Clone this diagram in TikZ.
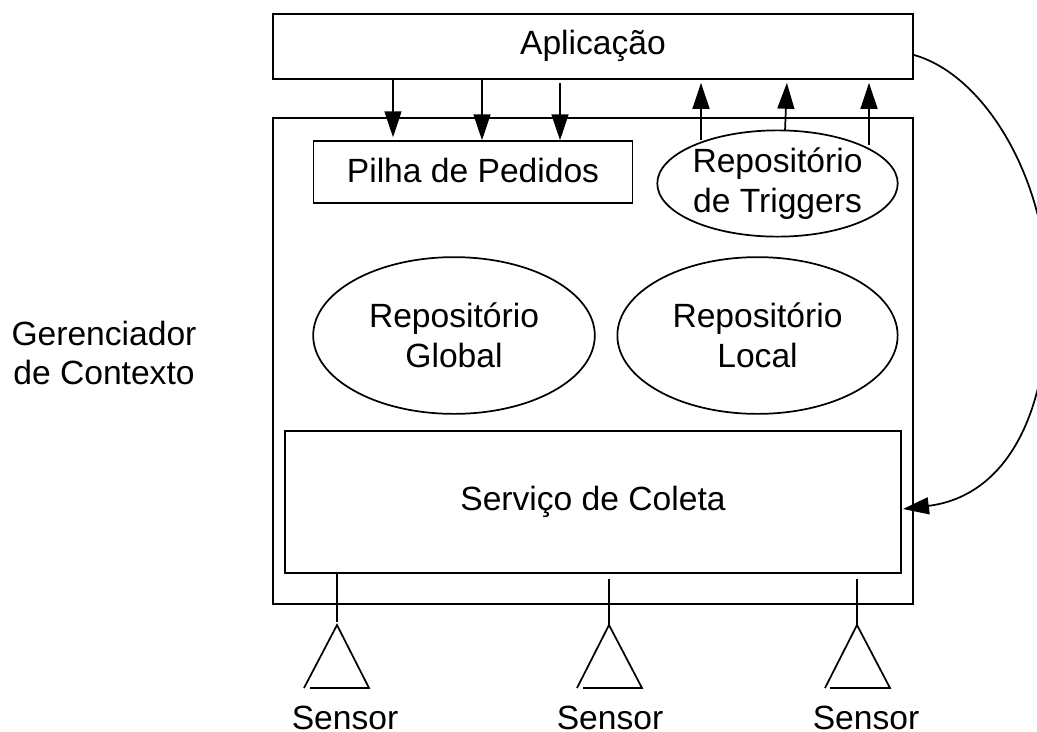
\documentclass[tikz,border=0pt]{standalone}
\usepackage{fontspec}
\setmainfont{Liberation Sans}
\usetikzlibrary{shapes.geometric,arrows.meta}
\tikzset{
  px/.style={x=0.0264583cm,y=-0.0264583cm},
  box/.style={draw,line width=1.3pt,inner sep=0pt,font=\fontsize{25.3}{30}\selectfont,align=center},
  oval/.style={box,ellipse},
  label/.style={inner sep=0pt,font=\fontsize{25.3}{30}\selectfont,align=center},
  link/.style={draw,line width=1.3pt},
  flow/.style={link,-{Triangle[length=19.5pt,width=12.75pt]}}
}
\begin{document}
\begin{tikzpicture}[px]
  \useasboundingbox (0,0) rectangle (1037,731);
  % Boxes
  \node[box,minimum width=481.5pt,minimum height=49pt,text depth=6pt] (app) at (593,46.5) {Aplicação};
  \node[box,minimum width=481.5pt,minimum height=366pt] (manager) at (593,361) {};
  \node[box,minimum width=240pt,minimum height=46.5pt,text depth=3pt] (stack) at (473,172) {Pilha de Pedidos};
  \node[box,minimum width=463.5pt,minimum height=106.5pt] (collect) at (593,502) {Serviço de Coleta};
  % Repositories
  \node[oval,minimum width=181pt,minimum height=80pt] (triggers) at (777.5,183.5) {Repositório\\de Triggers};
  \node[oval,minimum width=212pt,minimum height=118pt] (global) at (454,335.5) {Repositório\\Global};
  \node[oval,minimum width=211pt,minimum height=118pt] (local) at (757.5,335.5) {Repositório\\Local};
  \node[label] (ctx) at (104,353) {Gerenciador\\de Contexto};
  % Sensors
  \coordinate (apexA) at (337,625);
  \coordinate (apexB) at (609,625);
  \coordinate (apexC) at (857,625);
  \draw[link] (310,688) -- (369,688) -- (apexA) -- (304,688);
  \draw[link] (583,688) -- (642,688) -- (apexB) -- (577,688);
  \draw[link] (830,688) -- (890,688) -- (apexC) -- (825,688);
  \node[label,anchor=base] (sensorA) at (345,729) {Sensor};
  \node[label,anchor=base] (sensorB) at (610,729) {Sensor};
  \node[label,anchor=base] (sensorC) at (866,729) {Sensor};
  \draw[link] (337,0 |- collect.south) -- (337,622);
  \draw[link] (609,579) -- (apexB);
  \draw[link] (857,579) -- (apexC);
  % Requests
  \draw[flow,shorten >=2.25pt] (393,0 |- app.south) -- (393,0 |- stack.north);
  \draw[flow] (482,0 |- app.south) -- (482,0 |- stack.north);
  \draw[flow] (560,83) -- (560,0 |- stack.north);
  % Triggers
  \draw[flow,shorten >=2.25pt] (701,140) -- (701,0 |- app.south);
  \draw[flow,shorten >=2.25pt] (785,131) -- (787,0 |- app.south);
  \draw[flow,shorten >=2.25pt] (869,145) -- (869,0 |- app.south);
  % Feedback
  \draw[flow] (914,55) .. controls (985,75) and (1048,180) .. (1048,296) .. controls (1048,425) and (1000,497) .. (903,509);
\end{tikzpicture}
\end{document}
